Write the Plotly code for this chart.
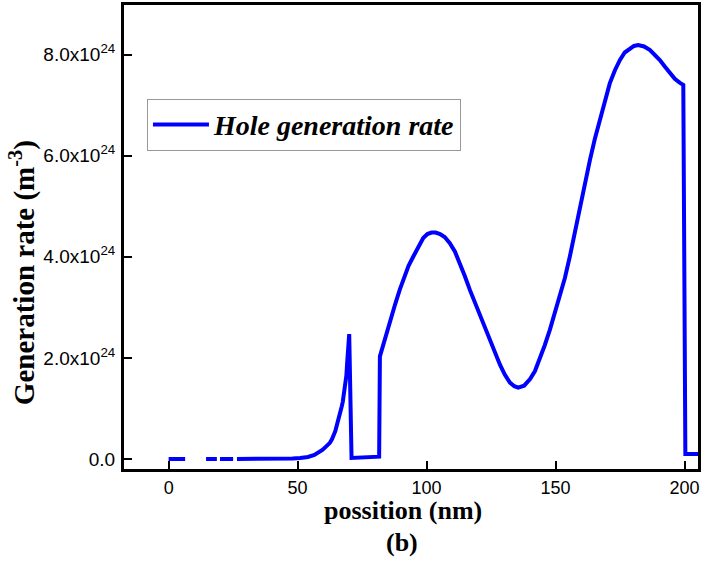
import plotly.graph_objects as go

# position (nm) and hole generation rate (in units of 1e24 m^-3); None = gap in data
position = [0, 3, 6.4, None,
            14.5, 18.7, None,
            19.9, 25, None,
            26.5, 35, 45, 48, 51, 54, 56.5, 57.6, 58.6, 59.6, 60.5, 61.5, 62.5, 63.3, 64,
            64.6, 65.1, 65.7, 66.2, 66.7, 67.1, 67.5, 67.8, 68.1, 68.4, 68.7, 68.9, 69.2,
            69.4, 69.6, 69.8, 70.0, 70.9, 76, 81.6, 81.9, 83.2, 84.5, 86, 87.8, 89.6, 91.3,
            93, 94.8, 96.8, 98.7, 100.3, 101.9, 103.5, 105.2, 107, 109.0, 111, 112.9, 114.8,
            116.8, 118.8, 120.7, 122.6, 124.5, 126.5, 128.4, 130.3, 132.3, 134, 135.5, 137.8,
            140.1, 142, 143.9, 145.8, 147.8, 149.7, 151.7, 153.6, 155.5, 157.5, 159.4,
            161.3, 163.3, 165.2, 167.2, 169.1, 171.0, 173, 174.9, 176.8, 178.8, 180.4,
            182.0, 184.3, 186.6, 188.5, 190.4, 192.4, 194.3, 196.2, 198.2, 199.5, 200.3,
            203, 207]
rate = [0, 0, 0, None,
        0, 0, None,
        0, 0, None,
        0, 0, 0.0, 0.01, 0.02, 0.04, 0.08, 0.11, 0.15, 0.18, 0.22, 0.27, 0.32, 0.39, 0.46,
        0.55, 0.65, 0.75, 0.85, 0.95, 1.04, 1.13, 1.22, 1.33, 1.44, 1.55, 1.65, 1.90,
        2.02, 2.15, 2.30, 2.47, 0.02, 0.03, 0.045, 2.03, 2.27, 2.49, 2.75, 3.06, 3.35, 3.60,
        3.82, 4.0, 4.21, 4.37, 4.45, 4.48, 4.48, 4.45, 4.39, 4.27, 4.10, 3.88, 3.62,
        3.34, 3.08, 2.82, 2.57, 2.33, 2.10, 1.87, 1.67, 1.51, 1.44, 1.41, 1.45,
        1.58, 1.74, 1.97, 2.25, 2.56, 2.88, 3.21, 3.58, 4.0, 4.50, 4.99,
        5.46, 5.91, 6.33, 6.70, 7.08, 7.43, 7.69, 7.89, 8.04, 8.12, 8.17,
        8.19, 8.16, 8.09, 8.00, 7.89, 7.76, 7.63, 7.52, 7.44, 7.40, 0.10,
        0.10, 0.10]

y_tick_vals = [0, 2e24, 4e24, 6e24, 8e24]
y_tick_text = ["0.0", "2.0x10<sup>24</sup>", "4.0x10<sup>24</sup>",
               "6.0x10<sup>24</sup>", "8.0x10<sup>24</sup>"]
x_tick_vals = [0, 50, 100, 150, 200]

y_vals = [None if v is None else v * 1e24 for v in rate]

fig = go.Figure()
fig.add_trace(go.Scatter(
    x=position, y=y_vals, mode="lines",
    line=dict(color="#0000FF", width=4),
    connectgaps=False,
    name="<b><i>Hole generation rate</i></b>",
))

fig.update_layout(
    width=703, height=561,
    margin=dict(l=124, r=5, t=5, b=92),
    plot_bgcolor="white", paper_bgcolor="white",
    showlegend=True,
    legend=dict(
        x=0.04, y=0.742, xanchor="left", yanchor="middle",
        bgcolor="white", bordercolor="#999999", borderwidth=1,
        font=dict(family="Liberation Serif", size=28, color="black"),
        itemwidth=56,
    ),
    xaxis=dict(
        range=[-17.3, 205.2], tickvals=x_tick_vals,
        showgrid=False, zeroline=False,
        showline=True, linecolor="black", linewidth=3, mirror=True,
        ticks="inside", ticklen=8, tickwidth=2, tickcolor="black",
        tickfont=dict(family="Liberation Sans", size=18, color="black"),
        automargin=False,
    ),
    yaxis=dict(
        range=[-0.198e24, 8.98e24], tickvals=y_tick_vals, ticktext=y_tick_text,
        showgrid=False, zeroline=False,
        showline=True, linecolor="black", linewidth=3, mirror=True,
        ticks="inside", ticklen=8, tickwidth=2, tickcolor="black",
        tickfont=dict(family="Liberation Sans", size=19, color="black"),
        ticklabelstandoff=2,
        automargin=False,
    ),
    annotations=[
        dict(text="<b>possition (nm)</b>", x=0.486, y=-0.090, xref="paper", yref="paper",
             xanchor="center", yanchor="middle", showarrow=False,
             font=dict(family="Liberation Serif", size=26, color="black")),
        dict(text="<b>(b)</b>", x=0.485, y=-0.159, xref="paper", yref="paper",
             xanchor="center", yanchor="middle", showarrow=False,
             font=dict(family="Liberation Serif", size=26, color="black")),
        dict(text="<b>Generation rate (m<sup>-3</sup>)</b>", x=-0.177, y=0.423,
             xref="paper", yref="paper", textangle=-90,
             xanchor="center", yanchor="middle", showarrow=False,
             font=dict(family="Liberation Serif", size=29, color="black")),
    ],
)

fig.write_html("out.html",
               config={"displayModeBar": False},
               post_script="document.body.style.margin='0';document.body.style.overflow='hidden';")
